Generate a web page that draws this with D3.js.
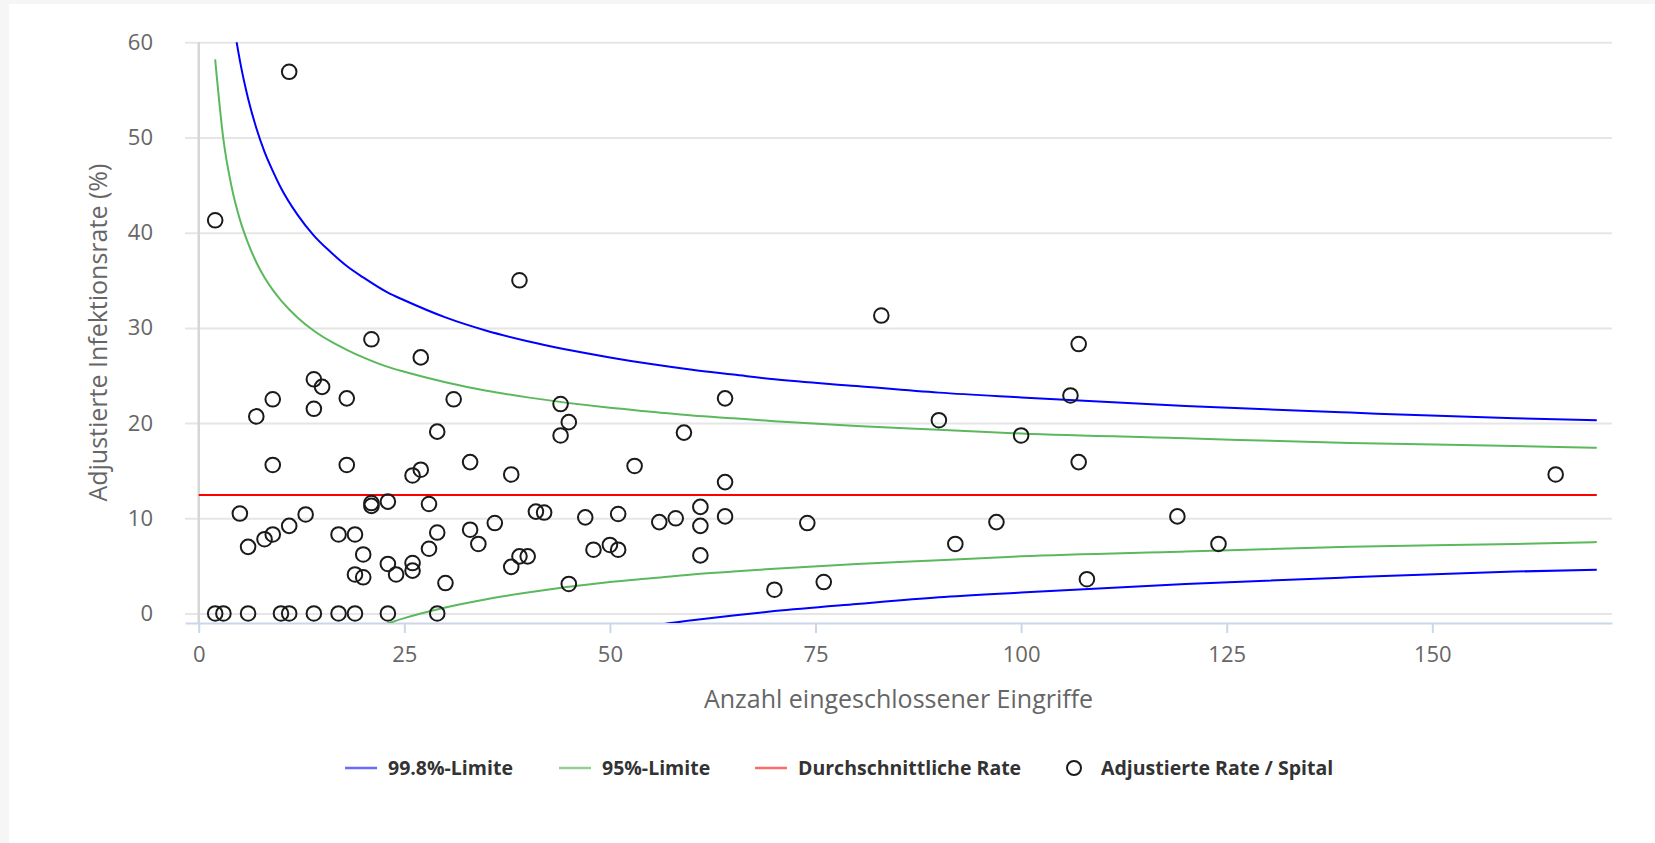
<!DOCTYPE html>
<html>
<head>
<meta charset="utf-8">
<script src="https://cdn.jsdelivr.net/npm/d3@7"></script>
<style>
    html, body { margin: 0; padding: 0; background: #f6f6f6; }
    .chart { width: 1655px; height: 843px; }
    text { font-family: "Open Sans", "Noto Sans", sans-serif; }
</style>
</head>
<body>
<div class="chart"></div>
<script>
// number of procedures / adjusted infection rate per hospital
const hospN = [2, 3, 6, 10, 11, 14, 17, 19, 23, 29,
    21, 27, 14, 15, 9, 18, 31, 7, 14, 29,
    9, 18, 33, 27, 26, 38, 5, 21, 21, 23,
    28, 13, 11, 9, 8, 6, 17, 19, 20, 19,
    20, 23, 24, 26, 26, 28, 29, 30, 33, 34,
    36, 38, 39, 40, 41, 42, 44, 45, 44, 45,
    47, 48, 50, 51, 51, 53, 56, 58, 59, 61,
    61, 61, 64, 64, 64, 70, 74, 11, 2, 39,
    83, 107, 106, 90, 100, 107, 165, 119, 97, 92,
    124, 76, 108];
const hospRate = [0, 0, 0, 0, 0, 0, 0, 0, 0, 0,
    28.8, 26.9, 24.6, 23.8, 22.5, 22.6, 22.5, 20.7, 21.5, 19.1,
    15.6, 15.6, 15.9, 15.1, 14.5, 14.6, 10.5, 11.3, 11.6, 11.75,
    11.5, 10.4, 9.2, 8.3, 7.8, 7.0, 8.3, 8.3, 6.2, 4.1,
    3.8, 5.2, 4.1, 5.3, 4.5, 6.8, 8.5, 3.2, 8.8, 7.3,
    9.5, 4.9, 6.0, 6.0, 10.7, 10.6, 22.0, 20.1, 18.7, 3.1,
    10.1, 6.7, 7.2, 6.7, 10.45, 15.5, 9.6, 10.0, 19.0, 11.2,
    9.2, 6.1, 22.6, 13.8, 10.2, 2.5, 9.5, 56.9, 41.3, 35.0,
    31.3, 28.3, 22.9, 20.3, 18.7, 15.9, 14.6, 10.2, 9.6, 7.3,
    7.3, 3.3, 3.6];

// control limits read along the funnel
const limitN = [2, 3, 4, 5, 6, 7, 8, 9, 10, 12, 14, 16, 18, 20, 23, 25, 30, 35, 40,
    50, 55, 60, 65, 70, 80, 90, 100, 120, 140, 160, 170];
const upper998 = [84.6, 71.3, 63.5, 58.1, 54.1, 51.0, 48.5, 46.5, 44.7, 41.9, 39.7, 38.0, 36.5, 35.3, 33.7, 32.9, 31.1, 29.7, 28.6,
    26.9, 26.2, 25.6, 25.1, 24.6, 23.9, 23.2, 22.7, 21.8, 21.1, 20.5, 20.3];
const upper95 = [58.2, 49.8, 44.8, 41.4, 38.9, 36.9, 35.3, 34.0, 32.9, 31.1, 29.7, 28.6, 27.7, 26.9, 25.9, 25.4, 24.3, 23.4, 22.7,
    21.6, 21.2, 20.8, 20.5, 20.2, 19.7, 19.3, 18.9, 18.4, 17.9, 17.6, 17.4];
const lower95 = [null, null, null, null, null, null, null, null, null, null, null, null, null, -2.0, -1.05, -0.49, 0.63, 1.5, 2.2,
    3.3, 3.7, 4.1, 4.4, 4.7, 5.2, 5.6, 6.0, 6.5, 7.0, 7.3, 7.5];
const lower998 = [null, null, null, null, null, null, null, null, null, null, null, null, null, null, null, null, null, null, null,
    -2.0, -1.3, -0.72, -0.2, 0.25, 1.0, 1.7, 2.2, 3.1, 3.8, 4.4, 4.6];
const avgRate = 12.45;
const avgRange = [0, 170];

const xTicks = [0, 25, 50, 75, 100, 125, 150];
const yTicks = [0, 10, 20, 30, 40, 50, 60];

const seriesNames = ['99.8%-Limite', '95%-Limite', 'Durchschnittliche Rate', 'Adjustierte Rate / Spital'];

const fullWidth = 1655;
const fullHeight = 843;
const margin = {top: 42.3, right: 43, bottom: 220, left: 185};
const width = fullWidth - margin.left - margin.right;
const height = fullHeight - margin.top - margin.bottom;

const root = d3.select('.chart')
    .append('svg')
        .attr('width', fullWidth)
        .attr('height', fullHeight);

// white chart card over the grey page
root.append('rect')
    .attr('x', 9)
    .attr('y', 4)
    .attr('width', fullWidth - 9)
    .attr('height', fullHeight - 4)
    .attr('fill', '#fff');

const svg = root.append('g')
    .attr('transform', `translate(${margin.left}, ${margin.top})`);

const xScale = d3.scaleLinear()
    .domain([-1.67, 171.85])
    .range([0, width]);

const yScale = d3.scaleLinear()
    .domain([-1, 60])
    .range([height, 0]);

// y gridlines + labels
const yAxis = d3.axisLeft(yScale)
    .tickValues(yTicks)
    .tickSize(-width)
    .tickPadding(32);
svg.append('g')
    .call(yAxis)
    .call(g => g.select('.domain').remove())
    .call(g => g.selectAll('.tick line')
        .attr('stroke', '#e6e6e6')
        .attr('stroke-width', 2))
    .call(g => g.selectAll('.tick text')
        .attr('fill', '#666')
        .style('font-size', '22px'));

// x axis
const xAxis = d3.axisBottom(xScale)
    .tickValues(xTicks)
    .tickSizeInner(10)
    .tickSizeOuter(0)
    .tickPadding(13);
svg.append('g')
    .attr('transform', `translate(0, ${height})`)
    .call(xAxis)
    .call(g => g.select('.domain')
        .attr('stroke', '#ccd6eb')
        .attr('stroke-width', 2))
    .call(g => g.selectAll('.tick line')
        .attr('stroke', '#ccd6eb')
        .attr('stroke-width', 2))
    .call(g => g.selectAll('.tick text')
        .attr('fill', '#666')
        .style('font-size', '22px'));

// vertical line at x = 0
svg.append('line')
    .attr('x1', xScale(0))
    .attr('x2', xScale(0))
    .attr('y1', 0)
    .attr('y2', height)
    .attr('stroke', '#d6d6d6')
    .attr('stroke-width', 2.5);

// axis titles
svg.append('text')
    .attr('x', width / 2)
    .attr('y', height + 85)
    .attr('text-anchor', 'middle')
    .attr('fill', '#666')
    .style('font-size', '25px')
    .text('Anzahl eingeschlossener Eingriffe');

svg.append('text')
    .attr('transform', `translate(${98 - margin.left + 9}, ${height / 2}) rotate(-90)`)
    .attr('text-anchor', 'middle')
    .attr('fill', '#666')
    .style('font-size', '25px')
    .text('Adjustierte Infektionsrate (%)');

// clip for the lines
svg.append('clipPath')
    .attr('id', 'plot-clip')
    .append('rect')
    .attr('width', width)
    .attr('height', height);

const plot = svg.append('g').attr('clip-path', 'url(#plot-clip)');

const limitLine = d3.line()
    .defined(d => d[1] != null)
    .x(d => xScale(d[0]))
    .y(d => yScale(d[1]))
    .curve(d3.curveMonotoneX);

const limits = [
    {values: upper998, color: '#0000ff'},
    {values: lower998, color: '#0000ff'},
    {values: upper95, color: '#5cb85c'},
    {values: lower95, color: '#5cb85c'}
];

limits.forEach(s => {
    plot.append('path')
        .datum(limitN.map((n, i) => [n, s.values[i]]))
        .attr('d', limitLine)
        .attr('fill', 'none')
        .attr('stroke', s.color)
        .attr('stroke-width', 2);
});

plot.append('line')
    .attr('x1', xScale(avgRange[0]))
    .attr('x2', xScale(avgRange[1]))
    .attr('y1', yScale(avgRate))
    .attr('y2', yScale(avgRate))
    .attr('stroke', '#ff0000')
    .attr('stroke-width', 2);

// hospitals
svg.selectAll('circle.hosp')
    .data(hospN.map((n, i) => ({n: n, rate: hospRate[i]})))
    .enter()
    .append('circle')
    .attr('class', 'hosp')
    .attr('cx', d => xScale(d.n))
    .attr('cy', d => yScale(d.rate))
    .attr('r', 7.3)
    .attr('fill', 'none')
    .attr('stroke', '#1a1a1a')
    .attr('stroke-width', 2);

// legend
const legendX = [345, 559, 755, 1058];
const legendColors = ['#6a6aff', '#96cc96', '#ff6a6a', null];
const legend = root.append('g')
    .attr('transform', 'translate(0, 768)');

seriesNames.forEach((name, i) => {
    const item = legend.append('g')
        .attr('transform', `translate(${legendX[i]}, 0)`);
    if (legendColors[i]) {
        item.append('line')
            .attr('x1', 0)
            .attr('x2', 32)
            .attr('stroke', legendColors[i])
            .attr('stroke-width', 2.5);
    } else {
        item.append('circle')
            .attr('cx', 16)
            .attr('r', 7)
            .attr('fill', 'none')
            .attr('stroke', '#1a1a1a')
            .attr('stroke-width', 2);
    }
    item.append('text')
        .attr('x', 43)
        .attr('y', 7)
        .attr('fill', '#333')
        .style('font-size', '19.5px')
        .style('font-weight', 'bold')
        .text(name);
});
</script>
</body>
</html>
